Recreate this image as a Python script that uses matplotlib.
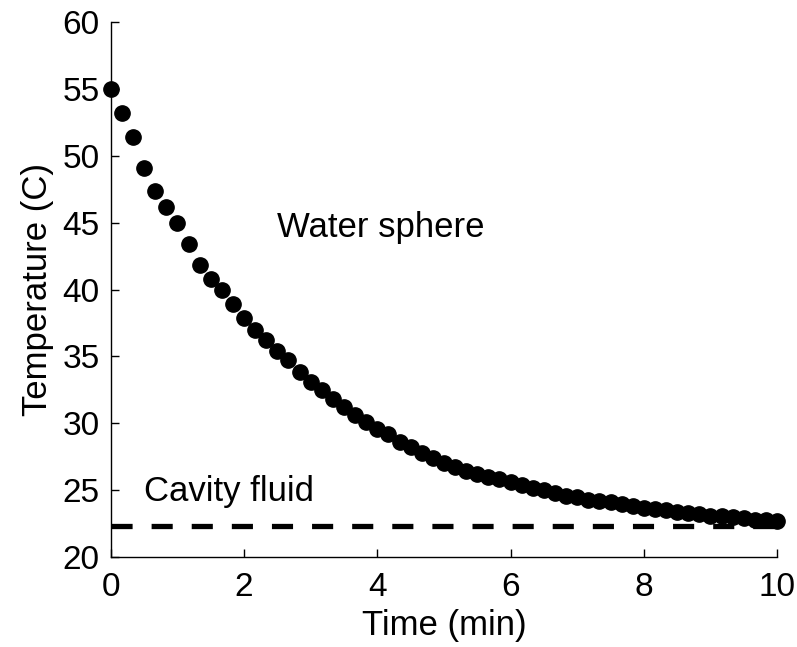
import numpy as np
import matplotlib.pyplot as plt

plt.rcParams['font.family'] = ['Liberation Sans', 'DejaVu Sans']

# sphere temperature sampled every 10 s over 10 minutes
time_min = np.arange(61) / 6.0
temp_c = [55.0, 53.2, 51.4, 49.1, 47.4, 46.2, 45.0, 43.4, 41.8, 40.8,
          40.0, 38.9, 37.9, 37.0, 36.2, 35.4, 34.7, 33.8, 33.1, 32.5,
          31.8, 31.2, 30.6, 30.1, 29.6, 29.2, 28.6, 28.2, 27.8, 27.4,
          27.0, 26.7, 26.4, 26.2, 26.0, 25.8, 25.6, 25.4, 25.2, 25.0,
          24.8, 24.6, 24.5, 24.3, 24.2, 24.1, 24.0, 23.8, 23.7, 23.6,
          23.5, 23.4, 23.3, 23.2, 23.1, 23.1, 23.0, 22.9, 22.8, 22.8,
          22.7]
fluid_temp = 22.3

fs = 25

fig = plt.figure(figsize=(7.97, 6.47), dpi=100)
ax = fig.add_axes([0.139, 0.139, 0.836, 0.827])

ax.plot([0, 10], [fluid_temp, fluid_temp], color='black', lw=3.8,
        linestyle=(0, (4, 3.6)), zorder=2)
ax.plot(time_min, temp_c, 'o', color='black', ms=11, zorder=3, clip_on=False)

ax.text(2.5, 44.6, 'Water sphere', fontsize=fs, va='center', ha='left')
ax.text(0.5, 24.9, 'Cavity fluid', fontsize=fs, va='center', ha='left')

ax.set_xlim(0, 10)
ax.set_ylim(20, 60)
ax.set_xticks([0, 2, 4, 6, 8, 10])
ax.set_yticks(np.arange(20, 61, 5))
ax.set_xlabel('Time (min)', fontsize=fs, labelpad=4)
ax.set_ylabel('Temperature (C)', fontsize=fs, labelpad=6)
ax.tick_params(direction='in', length=6, width=1, labelsize=24)
ax.tick_params(axis='x', pad=11)
ax.tick_params(axis='y', pad=8)
for side in ['top', 'right']:
    ax.spines[side].set_visible(False)
for side in ['left', 'bottom']:
    ax.spines[side].set_linewidth(1)

fig.savefig('out.png', dpi=100)
